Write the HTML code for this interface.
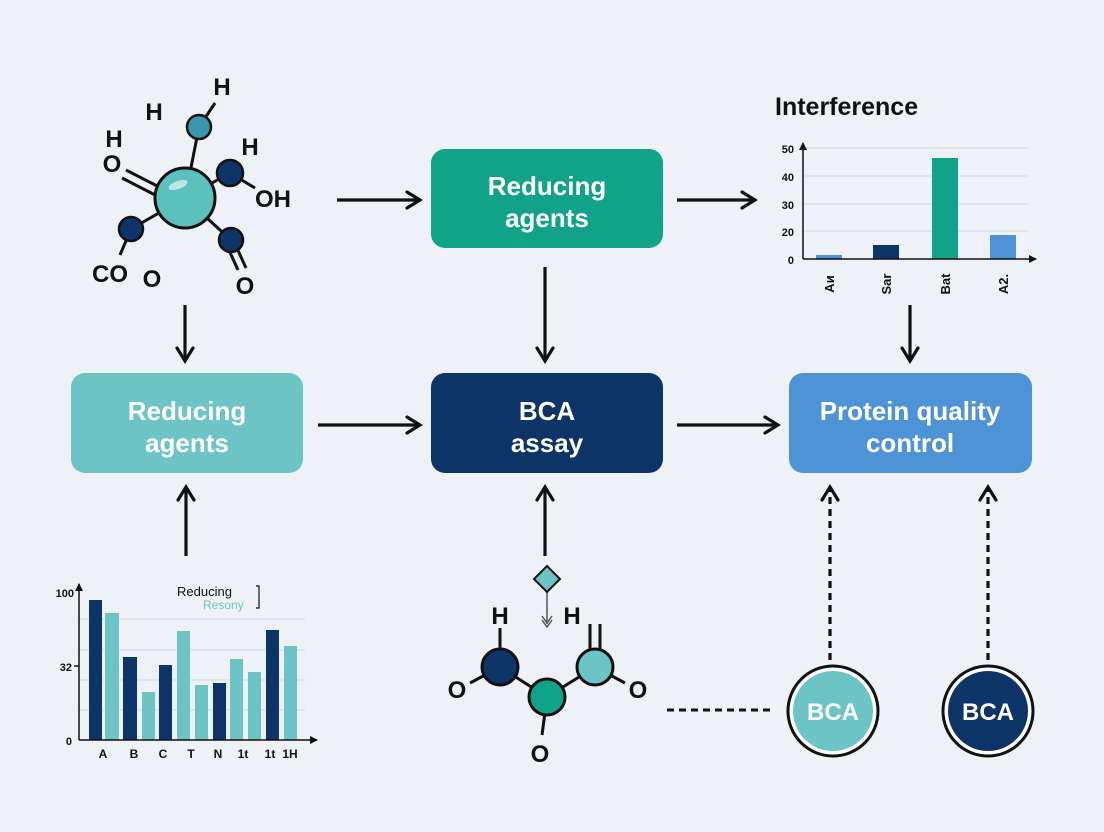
<!DOCTYPE html>
<html><head><meta charset="utf-8"><style>
html,body{margin:0;padding:0;background:#eef1f5;}
svg{display:block;font-family:"Liberation Sans",sans-serif;font-weight:bold;}
</style></head><body>
<svg width="1104" height="832" viewBox="0 0 1104 832" xmlns="http://www.w3.org/2000/svg">
<defs>
<marker id="ah" markerWidth="10" markerHeight="10" refX="8" refY="5" orient="auto" markerUnits="userSpaceOnUse" viewBox="0 0 10 10">
<path d="M1,0 L9,5 L1,10" fill="none" stroke="#111" stroke-width="2.2"/>
</marker>
<marker id="ah2" markerWidth="20" markerHeight="20" refX="17" refY="10" orient="auto" markerUnits="userSpaceOnUse" viewBox="0 0 20 20">
<path d="M4,2 L17,10 L4,18" fill="none" stroke="#111" stroke-width="3.2" stroke-linecap="round"/>
</marker>
<marker id="sm" markerWidth="8" markerHeight="8" refX="7" refY="4" orient="auto" markerUnits="userSpaceOnUse" viewBox="0 0 8 8">
<path d="M0,0 L8,4 L0,8z" fill="#111"/>
</marker>
</defs>
<rect width="1104" height="832" fill="#eef1f5"/>

<!-- boxes -->
<rect x="431" y="149" width="232" height="99" rx="14" fill="#10a387"/>
<text x="547" y="195" font-size="26" fill="#fff" text-anchor="middle">Reducing</text>
<text x="547" y="227" font-size="26" fill="#fff" text-anchor="middle">agents</text>

<rect x="71" y="373" width="232" height="100" rx="14" fill="#6cc5c4"/>
<text x="187" y="420" font-size="26" fill="#fff" text-anchor="middle">Reducing</text>
<text x="187" y="452" font-size="26" fill="#fff" text-anchor="middle">agents</text>

<rect x="431" y="373" width="232" height="100" rx="14" fill="#0d3466"/>
<text x="547" y="420" font-size="26" fill="#fff" text-anchor="middle">BCA</text>
<text x="547" y="452" font-size="26" fill="#fff" text-anchor="middle">assay</text>

<rect x="789" y="373" width="243" height="100" rx="14" fill="#4f93d7"/>
<text x="910" y="420" font-size="26" fill="#fff" text-anchor="middle">Protein quality</text>
<text x="910" y="452" font-size="26" fill="#fff" text-anchor="middle">control</text>

<!-- arrows -->
<g stroke="#111" stroke-width="3.2" fill="none" marker-end="url(#ah2)">
<line x1="337" y1="200" x2="420" y2="200"/>
<line x1="677" y1="200" x2="755" y2="200"/>
<line x1="545" y1="267" x2="545" y2="361"/>
<line x1="185" y1="305" x2="185" y2="361"/>
<line x1="910" y1="305" x2="910" y2="361"/>
<line x1="318" y1="425" x2="420" y2="425"/>
<line x1="677" y1="425" x2="778" y2="425"/>
<line x1="186" y1="556" x2="186" y2="487"/>
<line x1="545" y1="556" x2="545" y2="487"/>
<line x1="830" y1="660" x2="830" y2="487" stroke-dasharray="7,5"/>
<line x1="988" y1="660" x2="988" y2="487" stroke-dasharray="7,5"/>
</g>
<line x1="667" y1="710" x2="775" y2="710" stroke="#111" stroke-width="3" stroke-dasharray="7,5"/>

<!-- BCA circles -->
<circle cx="833" cy="711" r="45" fill="#fff" stroke="#111" stroke-width="3"/>
<circle cx="833" cy="711" r="40" fill="#6cc5c4"/>
<text x="833" y="720" font-size="24" fill="#fff" text-anchor="middle">BCA</text>
<circle cx="988" cy="711" r="45" fill="#fff" stroke="#111" stroke-width="3"/>
<circle cx="988" cy="711" r="40" fill="#0d3466"/>
<text x="988" y="720" font-size="24" fill="#fff" text-anchor="middle">BCA</text>

<!-- top-left molecule -->
<g stroke="#111" stroke-width="3">
<line x1="185" y1="198" x2="199" y2="127"/>
<line x1="199" y1="127" x2="215" y2="103"/>
<line x1="185" y1="198" x2="230" y2="173"/>
<line x1="230" y1="173" x2="255" y2="188"/>
<line x1="185" y1="198" x2="131" y2="229"/>
<line x1="131" y1="229" x2="120" y2="255"/>
<line x1="185" y1="198" x2="231" y2="240"/>
<line x1="228" y1="248" x2="238" y2="270"/>
<line x1="236" y1="246" x2="246" y2="268"/>
<line x1="126" y1="170" x2="165" y2="190"/>
<line x1="122" y1="178" x2="161" y2="198"/>
</g>
<circle cx="185" cy="198" r="30" fill="#5cc0bd" stroke="#111" stroke-width="3"/>
<ellipse cx="178" cy="185" rx="10" ry="4" fill="#fff" opacity="0.6" transform="rotate(-20 178 185)"/>
<circle cx="199" cy="127" r="12" fill="#3a97ae" stroke="#111" stroke-width="2.5"/>
<circle cx="230" cy="173" r="13" fill="#0d3466" stroke="#111" stroke-width="2.5"/>
<circle cx="131" cy="229" r="12" fill="#0d3466" stroke="#111" stroke-width="2.5"/>
<circle cx="231" cy="240" r="12" fill="#0d3466" stroke="#111" stroke-width="2.5"/>
<g font-size="24" fill="#111" text-anchor="middle">
<text x="222" y="95">H</text>
<text x="154" y="120">H</text>
<text x="114" y="147">H</text>
<text x="112" y="172">O</text>
<text x="250" y="155">H</text>
<text x="273" y="207">OH</text>
<text x="110" y="282">CO</text>
<text x="152" y="287">O</text>
<text x="245" y="294">O</text>
</g>

<!-- top-right chart -->
<text x="775" y="115" font-size="25" fill="#111" font-weight="bold">Interference</text>
<g stroke="#d4d9e0" stroke-width="1">
<line x1="803" y1="148" x2="1028" y2="148"/>
<line x1="803" y1="176" x2="1028" y2="176"/>
<line x1="803" y1="204" x2="1028" y2="204"/>
<line x1="803" y1="231" x2="1028" y2="231"/>
</g>
<rect x="816" y="255" width="26" height="4" fill="#4f93d7"/>
<rect x="873" y="245" width="26" height="14" fill="#0d3466"/>
<rect x="932" y="158" width="26" height="101" fill="#10a387"/>
<rect x="990" y="235" width="26" height="24" fill="#4f93d7"/>
<line x1="803" y1="259" x2="803" y2="143" stroke="#111" stroke-width="1.5" marker-end="url(#sm)"/>
<line x1="803" y1="259" x2="1036" y2="259" stroke="#111" stroke-width="1.5" marker-end="url(#sm)"/>
<g font-size="11" fill="#111" text-anchor="end">
<text x="794" y="153">50</text><text x="794" y="181">40</text><text x="794" y="209">30</text><text x="794" y="236">20</text><text x="794" y="264">0</text>
</g>
<g font-size="13" fill="#111" text-anchor="middle">
<text transform="translate(834,284) rotate(-90)">Aи</text>
<text transform="translate(891,284) rotate(-90)">Sar</text>
<text transform="translate(950,284) rotate(-90)">Bat</text>
<text transform="translate(1008,284) rotate(-90)">A2.</text>
</g>

<!-- bottom-left chart -->
<g stroke="#d4d9e0" stroke-width="1">
<line x1="79" y1="619" x2="305" y2="619"/>
<line x1="79" y1="650" x2="305" y2="650"/>
<line x1="79" y1="680" x2="305" y2="680"/>
<line x1="79" y1="710" x2="305" y2="710"/>
</g>
<g>
<rect x="89" y="600" width="13" height="140" fill="#0d3466"/>
<rect x="105" y="613" width="14" height="127" fill="#6cc5c4"/>
<rect x="123" y="657" width="14" height="83" fill="#0d3466"/>
<rect x="142" y="692" width="13" height="48" fill="#6cc5c4"/>
<rect x="159" y="665" width="13" height="75" fill="#0d3466"/>
<rect x="177" y="631" width="13" height="109" fill="#6cc5c4"/>
<rect x="195" y="685" width="13" height="55" fill="#6cc5c4"/>
<rect x="213" y="683" width="13" height="57" fill="#0d3466"/>
<rect x="230" y="659" width="13" height="81" fill="#6cc5c4"/>
<rect x="248" y="672" width="13" height="68" fill="#6cc5c4"/>
<rect x="266" y="630" width="13" height="110" fill="#0d3466"/>
<rect x="284" y="646" width="13" height="94" fill="#6cc5c4"/>
</g>
<line x1="79" y1="740" x2="79" y2="584" stroke="#111" stroke-width="1.5" marker-end="url(#sm)"/>
<line x1="79" y1="740" x2="317" y2="740" stroke="#111" stroke-width="1.5" marker-end="url(#sm)"/>
<line x1="74" y1="666" x2="79" y2="666" stroke="#111" stroke-width="1.5"/>
<g font-size="11" fill="#111" text-anchor="end">
<text x="74" y="597">100</text><text x="72" y="671">32</text><text x="72" y="745">0</text>
</g>
<text x="177" y="596" font-size="13" fill="#111" font-weight="normal">Reducing</text>
<text x="203" y="609" font-size="12" fill="#6cc5c4" font-weight="normal">Resony</text>
<path d="M256,586 H259 V608 H256" fill="none" stroke="#111" stroke-width="1.2"/>
<g font-size="12" fill="#111" text-anchor="middle">
<text x="103" y="758">A</text><text x="134" y="758">B</text><text x="163" y="758">C</text><text x="191" y="758">T</text><text x="218" y="758">N</text><text x="243" y="758">1t</text><text x="270" y="758">1t</text><text x="290" y="758">1H</text>
</g>

<!-- bottom molecule -->
<line x1="547" y1="587" x2="547" y2="624" stroke="#555" stroke-width="1.5"/>
<path d="M542,616 L547,623 L552,616 M542,620 L547,627 L552,620" fill="none" stroke="#555" stroke-width="1.5"/>
<path d="M547,566 L560,579 L547,592 L534,579z" fill="#6cc5c4" stroke="#111" stroke-width="2"/>
<g stroke="#111" stroke-width="3">
<line x1="500" y1="667" x2="547" y2="697"/>
<line x1="595" y1="667" x2="547" y2="697"/>
<line x1="500" y1="667" x2="500" y2="628"/>
<line x1="500" y1="667" x2="470" y2="683"/>
<line x1="595" y1="667" x2="625" y2="683"/>
<line x1="547" y1="697" x2="542" y2="735"/>
<line x1="590" y1="624" x2="590" y2="652"/>
<line x1="600" y1="624" x2="600" y2="652"/>
</g>
<circle cx="500" cy="667" r="18" fill="#0d3466" stroke="#111" stroke-width="3"/>
<circle cx="547" cy="697" r="18" fill="#10a387" stroke="#111" stroke-width="3"/>
<circle cx="595" cy="667" r="18" fill="#6cc5c4" stroke="#111" stroke-width="3"/>
<g font-size="24" fill="#111" text-anchor="middle">
<text x="500" y="624">H</text>
<text x="572" y="624">H</text>
<text x="457" y="698">O</text>
<text x="638" y="698">O</text>
<text x="540" y="762">O</text>
</g>
</svg>
</body></html>
